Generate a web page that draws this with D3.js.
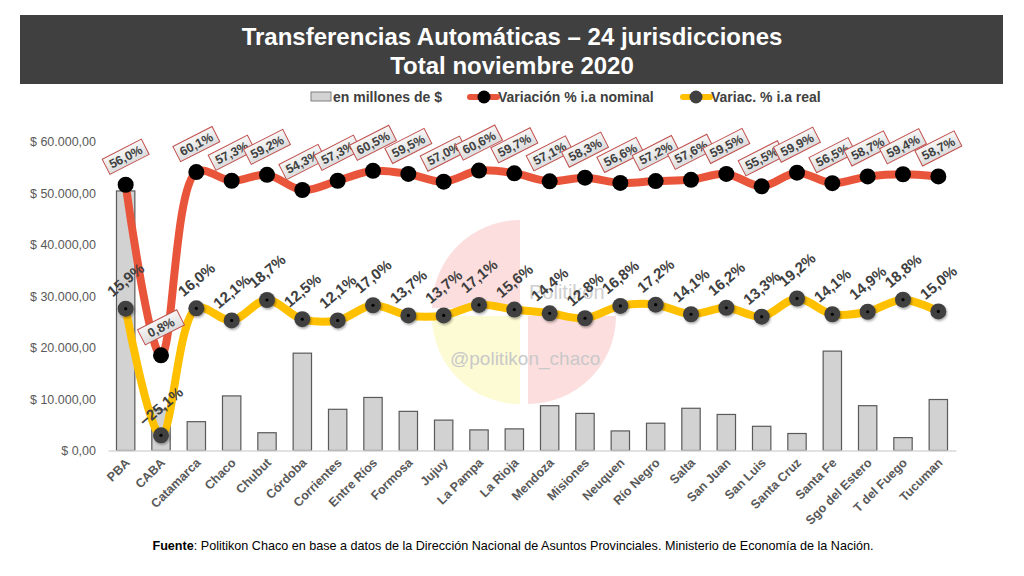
<!DOCTYPE html>
<html>
<head>
<meta charset="utf-8">
<script src="https://cdn.jsdelivr.net/npm/d3@7"></script>
<style>
    body { margin: 0; background: #fff; font-family: "Liberation Sans", Arial, sans-serif; }
</style>
</head>
<body>
<div id="chart"></div>
<script>

// ===============================
// Data
// ===============================

const categories = ["PBA", "CABA", "Catamarca", "Chaco", "Chubut", "Córdoba", "Corrientes",
    "Entre Ríos", "Formosa", "Jujuy", "La Pampa", "La Rioja", "Mendoza", "Misiones", "Neuquen",
    "Río Negro", "Salta", "San Juan", "San Luis", "Santa Cruz", "Santa Fe", "Sgo del Estero",
    "T del Fuego", "Tucuman"];

// millones de $
const amounts = [50400, 7900, 5600, 10600, 3450, 18900, 8000, 10300, 7600, 5900, 4000, 4200,
    8700, 7200, 3800, 5300, 8200, 7000, 4700, 3300, 19300, 8700, 2500, 9900];

// variación % interanual nominal
const nominalPct = [56.0, 0.8, 60.1, 57.3, 59.2, 54.3, 57.3, 60.5, 59.5, 57.0, 60.6, 59.7,
    57.1, 58.3, 56.6, 57.2, 57.6, 59.5, 55.5, 59.9, 56.5, 58.7, 59.4, 58.7];

// variación % interanual real
const realPct = [15.9, -25.1, 16.0, 12.1, 18.7, 12.5, 12.1, 17.0, 13.7, 13.7, 17.1, 15.6,
    14.4, 12.8, 16.8, 17.2, 14.1, 16.2, 13.3, 19.2, 14.1, 14.9, 18.8, 15.0];

const yTicks = [0, 10000, 20000, 30000, 40000, 50000, 60000];
const pctDomain = [-30, 70];   // hidden secondary axis

const titleLines = ["Transferencias Automáticas – 24 jurisdicciones", "Total noviembre 2020"];
const legendLabels = ["en millones de $", "Variación % i.a nominal", "Variac. % i.a real"];

const data = categories.map((c, i) => ({
    category: c,
    amount: amounts[i],
    nominal: nominalPct[i],
    real: realPct[i]
}));

// ===============================
// Chart
// ===============================

const createChart = (data) => {

    const width = 1024;
    const height = 576;

    const plot = { left: 108, right: 956, top: 141.5, bottom: 450.5 };

    const locale = d3.formatLocale({ decimal: ",", thousands: ".", grouping: [3], currency: ["$ ", ""] });
    const moneyFmt = locale.format(",.2f");
    const pctFmt = locale.format(".1f");

    const svg = d3.select("#chart")
        .append("svg")
        .attr("width", width)
        .attr("height", height)
        .attr("viewBox", `0 0 ${width} ${height}`);

    const defs = svg.append("defs");

    const shadow = defs.append("filter")
        .attr("id", "shadow")
        .attr("x", "-50%").attr("y", "-50%")
        .attr("width", "200%").attr("height", "200%");
    shadow.append("feDropShadow")
        .attr("dx", 1).attr("dy", 1.5)
        .attr("stdDeviation", 1.2)
        .attr("flood-color", "#000")
        .attr("flood-opacity", 0.35);

    const boxGrad = defs.append("linearGradient")
        .attr("id", "box-grad")
        .attr("x1", "0%").attr("y1", "0%")
        .attr("x2", "0%").attr("y2", "100%");
    boxGrad.append("stop").attr("offset", "0%").attr("stop-color", "#f7f7f7");
    boxGrad.append("stop").attr("offset", "100%").attr("stop-color", "#dcdcdc");

    // =========================
    // Scales
    // =========================

    const x = d3.scaleBand()
        .domain(data.map(d => d.category))
        .range([plot.left, plot.right])
        .paddingInner(0.48)
        .paddingOuter(0.24);

    const cx = d => x(d.category) + x.bandwidth() / 2;

    const y = d3.scaleLinear()
        .domain([0, 60000])
        .range([plot.bottom, plot.top]);

    const y2 = d3.scaleLinear()
        .domain(pctDomain)
        .range([plot.bottom, plot.top]);

    // =========================
    // Title band
    // =========================

    svg.append("rect")
        .attr("x", 20)
        .attr("y", 15)
        .attr("width", 983)
        .attr("height", 69)
        .attr("fill", "#404040");

    svg.selectAll(".title")
        .data(titleLines)
        .join("text")
        .attr("class", "title")
        .attr("x", 512)
        .attr("y", (d, i) => 45 + i * 29)
        .attr("text-anchor", "middle")
        .attr("fill", "#fff")
        .style("font-size", "24px")
        .style("font-weight", "bold")
        .text(d => d);

    // =========================
    // Legend
    // =========================

    const legend = svg.append("g").attr("class", "legend");

    legend.append("rect")
        .attr("x", 311).attr("y", 92)
        .attr("width", 20).attr("height", 9)
        .attr("fill", "#d3d3d3")
        .attr("stroke", "#808080");

    legend.append("line")
        .attr("x1", 470).attr("x2", 497)
        .attr("y1", 97).attr("y2", 97)
        .attr("stroke", "#e8553a")
        .attr("stroke-width", 6)
        .attr("stroke-linecap", "round");
    legend.append("circle")
        .attr("cx", 484).attr("cy", 97).attr("r", 6.5)
        .attr("fill", "#000");

    legend.append("line")
        .attr("x1", 683).attr("x2", 710)
        .attr("y1", 97).attr("y2", 97)
        .attr("stroke", "#ffc000")
        .attr("stroke-width", 6)
        .attr("stroke-linecap", "round");
    legend.append("circle")
        .attr("cx", 696).attr("cy", 97).attr("r", 6.5)
        .attr("fill", "#404040");

    legend.selectAll("text")
        .data(legendLabels)
        .join("text")
        .attr("x", (d, i) => [333, 498, 711][i])
        .attr("y", 102)
        .attr("fill", "#404040")
        .style("font-size", "14px")
        .style("font-weight", "bold")
        .text(d => d);

    // =========================
    // Watermark
    // =========================

    const wm = svg.append("g").attr("class", "watermark");
    const quarter = d3.arc().innerRadius(0).outerRadius(88);

    wm.append("path")
        .attr("transform", "translate(520,308)")
        .attr("d", quarter({ startAngle: -Math.PI / 2, endAngle: 0 }))
        .attr("fill", "#fcdede");
    wm.append("path")
        .attr("transform", "translate(520,316)")
        .attr("d", quarter({ startAngle: Math.PI, endAngle: Math.PI * 1.5 }))
        .attr("fill", "#fdfbd3");
    wm.append("path")
        .attr("transform", "translate(528,316)")
        .attr("d", quarter({ startAngle: Math.PI / 2, endAngle: Math.PI }))
        .attr("fill", "#fcdede");

    wm.append("text")
        .attr("x", 529).attr("y", 299)
        .attr("fill", "#cfcfcf")
        .style("font-size", "20px")
        .text("Politikon");

    wm.append("text")
        .attr("x", 450).attr("y", 365)
        .attr("fill", "#c9c9c9")
        .style("font-size", "19px")
        .text("@politikon_chaco");

    // =========================
    // Bars
    // =========================

    svg.append("g")
        .selectAll("rect")
        .data(data)
        .join("rect")
        .attr("x", d => x(d.category))
        .attr("y", d => y(d.amount))
        .attr("width", x.bandwidth())
        .attr("height", d => y(0) - y(d.amount))
        .attr("fill", "#d2d2d2")
        .attr("stroke", "#5a5a5a")
        .attr("stroke-width", 1.2);

    // =========================
    // Axes
    // =========================

    const xAxis = svg.append("g")
        .attr("transform", `translate(0,${plot.bottom})`)
        .call(d3.axisBottom(x).tickSize(0));

    xAxis.select(".domain").attr("stroke", "#d9d9d9").attr("stroke-width", 1.5);

    xAxis.selectAll("text")
        .attr("y", 0)
        .attr("dy", 0)
        .attr("text-anchor", "end")
        .attr("transform", "translate(5,13) rotate(-45)")
        .attr("fill", "#595959")
        .style("font-family", "Liberation Sans, Arial, sans-serif")
        .style("font-size", "12.5px")
        .style("font-weight", "bold");

    const yAxis = svg.append("g")
        .attr("transform", `translate(${plot.left},0)`)
        .call(d3.axisLeft(y)
            .tickValues(yTicks)
            .tickSize(0)
            .tickPadding(12)
            .tickFormat(d => "$ " + moneyFmt(d)));

    yAxis.select(".domain").remove();

    yAxis.selectAll("text")
        .attr("fill", "#595959")
        .style("font-family", "Liberation Sans, Arial, sans-serif")
        .style("font-size", "12.5px");

    // =========================
    // Lines
    // =========================

    const nominalLine = d3.line()
        .x(cx)
        .y(d => y2(d.nominal))
        .curve(d3.curveCatmullRom.alpha(0.5));

    const realLine = d3.line()
        .x(cx)
        .y(d => y2(d.real))
        .curve(d3.curveCatmullRom.alpha(0.5));

    svg.append("path")
        .datum(data)
        .attr("d", nominalLine)
        .attr("fill", "none")
        .attr("stroke", "#e8553a")
        .attr("stroke-width", 8)
        .attr("stroke-linejoin", "round");

    svg.append("path")
        .datum(data)
        .attr("d", realLine)
        .attr("fill", "none")
        .attr("stroke", "#ffc000")
        .attr("stroke-width", 8)
        .attr("stroke-linejoin", "round");

    // markers
    svg.append("g")
        .selectAll("circle")
        .data(data)
        .join("circle")
        .attr("cx", cx)
        .attr("cy", d => y2(d.nominal))
        .attr("r", 8)
        .attr("fill", "#000");

    const realMarks = svg.append("g")
        .selectAll("g")
        .data(data)
        .join("g")
        .attr("transform", d => `translate(${cx(d)},${y2(d.real)})`);

    realMarks.append("circle")
        .attr("r", 8)
        .attr("fill", "#404040")
        .attr("filter", "url(#shadow)");

    realMarks.append("circle")
        .attr("r", 1.6)
        .attr("fill", "#000");

    // =========================
    // Data labels
    // =========================

    const nomLabels = svg.append("g")
        .selectAll("g")
        .data(data)
        .join("g")
        .attr("transform", d => `translate(${cx(d)},${y2(d.nominal) - 28}) rotate(-27)`);

    nomLabels.append("rect")
        .attr("x", -22)
        .attr("y", -8.5)
        .attr("width", 44)
        .attr("height", 17)
        .attr("fill", "url(#box-grad)")
        .attr("stroke", "#c0504d")
        .attr("stroke-width", 1);

    nomLabels.append("text")
        .attr("text-anchor", "middle")
        .attr("dy", "0.36em")
        .attr("fill", "#404040")
        .style("font-size", "12.5px")
        .style("font-weight", "bold")
        .text(d => pctFmt(d.nominal) + "%");

    svg.append("g")
        .selectAll("text")
        .data(data)
        .join("text")
        .attr("transform", d => `translate(${cx(d)},${y2(d.real) - 29}) rotate(-40)`)
        .attr("text-anchor", "middle")
        .attr("dy", "0.36em")
        .attr("fill", "#404040")
        .style("font-size", "15px")
        .style("font-weight", "bold")
        .text(d => pctFmt(d.real) + "%");

    // =========================
    // Source note
    // =========================

    const note = svg.append("text")
        .attr("x", 513)
        .attr("y", 550)
        .attr("text-anchor", "middle")
        .attr("fill", "#000")
        .style("font-size", "12.6px");

    note.append("tspan")
        .style("font-weight", "bold")
        .text("Fuente");

    note.append("tspan")
        .text(": Politikon Chaco en base a datos de la Dirección Nacional de Asuntos Provinciales. Ministerio de Economía de la Nación.");

};

createChart(data);

</script>
</body>
</html>
